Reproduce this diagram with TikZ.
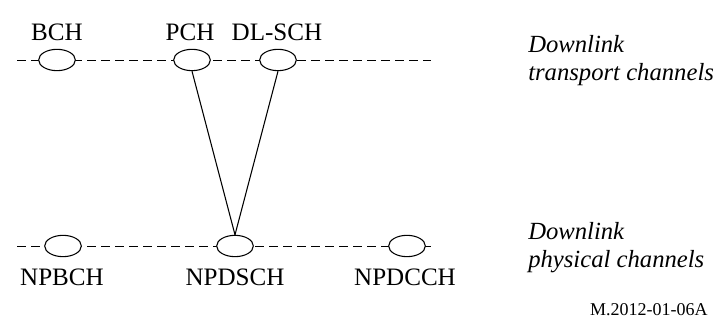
\documentclass[tikz,border=0pt]{standalone}
\usepackage{fontspec}
\setmainfont{Liberation Serif}
\usetikzlibrary{shapes.geometric}
\tikzset{
    chan/.style={ellipse, draw, fill=white, line width=0.8pt, minimum width=27.5pt, minimum height=16pt, inner sep=0pt},
    lbl/.style={font=\fontsize{18.8}{21}\selectfont, inner sep=0pt},
    side/.style={font=\fontsize{18.5}{21}\selectfont\itshape, align=left, anchor=west, inner sep=0pt},
    dashline/.style={dash pattern=on 6.5pt off 4pt, line width=0.7pt}
}
\begin{document}
\begin{tikzpicture}[x=0.75pt, y=-0.75pt]
    \useasboundingbox (0,0) rectangle (715,334);
    \coordinate (TL) at (17,60);
    \coordinate (TR) at (431,60);
    \coordinate (BL) at (17,246);
    \coordinate (BR) at (431,246);
    \draw[dashline] (TL) -- (TR);
    \draw[dashline] (BL) -- (BR);
    % transport channels
    \node[chan] (bch) at (57,60) {};
    \node[chan] (pch) at (192,60) {};
    \node[chan] (dlsch) at (278,60) {};
    \node[lbl] (bchl) at (57,32) {BCH};
    \node[lbl] (pchl) at (190,32) {PCH};
    \node[lbl] (dlschl) at (277,32) {DL-SCH};
    % physical channels
    \node[chan] (npbch) at (63,246) {};
    \node[chan] (npdsch) at (235,246) {};
    \node[chan] (npdcch) at (407,246) {};
    \node[lbl] (npbchl) at (62,277) {NPBCH};
    \node[lbl] (npdschl) at (235,277) {NPDSCH};
    \node[lbl] (npdcchl) at (405,277) {NPDCCH};
    \draw[line width=0.8pt] (pch.south) edge (npdsch.north);
    \draw[line width=0.8pt] (dlsch.south) edge (npdsch.north);
    % side texts
    \node[side] (trans) at (528,61) {Downlink\\transport channels};
    \node[side] (phys) at (528,248) {Downlink\\physical channels};
    \node[lbl, anchor=east, font=\fontsize{13.5}{15}\selectfont] (fig) at (708,310) {M.2012-01-06A};
\end{tikzpicture}
\end{document}
